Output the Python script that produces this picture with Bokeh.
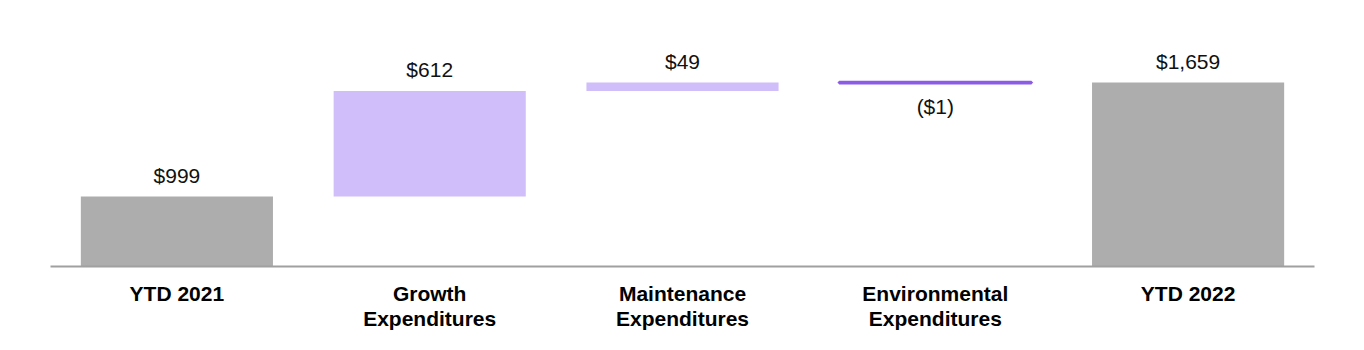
from bokeh.plotting import figure
from bokeh.models import ColumnDataSource, FactorRange, Range1d
from bokeh.embed import file_html
from bokeh.resources import INLINE
from bokeh.core.properties import value

categories = ["YTD 2021", "Growth\nExpenditures", "Maintenance\nExpenditures",
              "Environmental\nExpenditures", "YTD 2022"]
values = [999, 612, 49, -1, 1659]
kinds = ["total", "delta", "delta", "delta", "total"]
labels = ["$999", "$612", "$49", "($1)", "$1,659"]

GRAY = "#adadad"
LAV = "#d0befa"
PURPLE = "#8c5ce6"

bottoms, tops, colors = [], [], []
run = 0
for v, k in zip(values, kinds):
    if k == "total":
        bottoms.append(593)
        tops.append(v)
        run = v
    else:
        b, t = run, run + v
        bottoms.append(min(b, t))
        tops.append(max(b, t))
        run = t
    if k == "total":
        colors.append(GRAY)
    elif v < 0:
        colors.append(PURPLE)
    else:
        colors.append(LAV)

lab_y = [t if v >= 0 else b for v, t, b in zip(values, tops, bottoms)]
lab_off = [-21 if v >= 0 else 24 for v in values]
line_w = [0 if v >= 0 else 3.6 for v in values]

src = ColumnDataSource(dict(x=categories, bottom=bottoms, top=tops, color=colors,
                            lab=labels, ly=lab_y, loff=lab_off, lw=line_w))

p = figure(width=1364, height=350, x_range=FactorRange(*categories, range_padding=0),
           y_range=Range1d(593, 2019), output_backend="svg", toolbar_location=None,
           min_border_left=50, min_border_right=50, min_border_top=20, min_border_bottom=84)
p.outline_line_color = None
p.xgrid.visible = False
p.ygrid.visible = False
p.yaxis.visible = False

p.vbar(x="x", bottom="bottom", top="top", width=0.76, fill_color="color",
       line_color="color", line_width="lw", source=src)
p.text(x="x", y="ly", text="lab", y_offset="loff", text_align="center",
       text_baseline="alphabetic", text_font=value("Liberation Sans"),
       text_font_size="21px", text_color="#111111", source=src)

ax = p.xaxis[0]
ax.axis_line_color = "#a0a0a0"
ax.axis_line_width = 2
ax.major_tick_line_color = None
ax.minor_tick_line_color = None
ax.major_label_text_font = "Liberation Sans"
ax.major_label_text_font_style = "bold"
ax.major_label_text_font_size = "21px"
ax.major_label_text_color = "#000000"
ax.major_label_standoff = 9
ax.major_label_text_line_height = 1.12

open("out.html", "w").write(file_html(p, INLINE))
